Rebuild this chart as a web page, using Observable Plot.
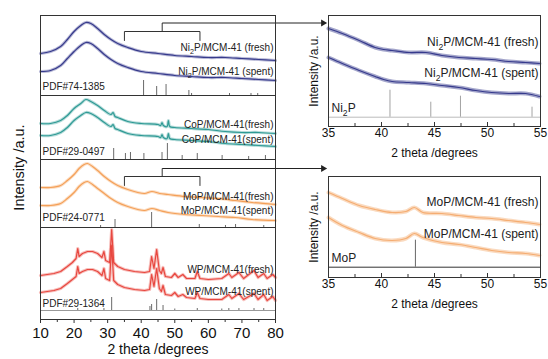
<!DOCTYPE html>
<html><head><meta charset="utf-8">
<script src="https://cdn.jsdelivr.net/npm/d3@7"></script>
<script src="https://cdn.jsdelivr.net/npm/@observablehq/plot@0.6"></script>
<style>
html,body{margin:0;padding:0;background:#fff;}
#chart{position:relative;width:548px;height:359px;overflow:hidden;}
#chart svg{position:absolute;left:0;top:0;max-width:none;}
</style></head><body><div id="chart"></div>
<script>
// ---------------- DATA (intensity in a.u., stacked) ----------------
// Ni2P/MCM-41
const ni2pTheta = [10,13,16,18,20,22,23.5,25,27,29,31,33,36,40,45,50,55,60,65,70,75,80];
const ni2pFresh = [266,268,273,280,288,294,297,296,291,285,280,276,272,268,266,264,263,262,262,261,260,259];
const ni2pSpent = [248,249,254,261,268,274,277,276,271,265,260,256,252,248,246,244,243,242,242,241,240,239];
const ni2pRefTheta = [40.7,44.6,47.4,54.2,55.0,66.3,72.7,74.7];
const ni2pRefInt = [15,9,11,5,2,2,2,2];
// CoP/MCM-41
const copTheta = [10,13,16,18,20,22,23.5,25,27,29,31,31.6,32.2,33,36,40,45,45.8,46.2,46.6,47.7,48.1,48.5,50,55,60,65,70,75,80];
const copFresh = [196,196,199,204,211,216,220,218,214,209,205,207,203,202,198,196,195,194,197,194,193,199,193,192,191,190,188,187,187,186];
const copSpent = [184,184,187,192,199,204,207,206,202,197,193,195,191,190,186,184,183,182,185,182,181,186,181,180,179,178,176,175,174,173];
const copRefTheta = [31.8,35.3,36.8,40.8,46.2,47.8,52.2,56.7,64.1,72.0,77.0];
const copRefInt = [11,6,7,6,7,16,4,6,4,3,4];
// MoP/MCM-41
const mopTheta = [10,13,16,18,20,21.5,23,24,25.5,27,29,31,33,36,39,41,43.2,45.5,48,53,58,63,68,73,80];
const mopFresh = [132,132,134,139,145,151,155,156,153,149,143,138,134,130,127,126,128,126,125,123,122,121,119,117,115];
const mopSpent = [114,114,116,121,127,133,137,138,135,131,126,121,117,113,110,109,111,109,107,105,104,103,102,100,99];
const mopRefTheta = [27.9,32.2,43.1,57.3,65.1,68.1,76.5];
const mopRefInt = [2,8,15,3,2,3,2];
// WP/MCM-41
const wpTheta = [10,14,16,18,19.5,20.6,21.1,21.5,22.5,24,25.5,27,28.3,28.9,29.4,30.6,31.2,31.8,33,35,38,41,42.5,43.1,43.8,44.6,45.4,46.0,46.5,47.2,49,50,51,52.4,53.5,56,56.7,57.5,60,64,66.1,67,69.1,70.5,73.6,74.8,76.5,77.5,79.2,80];
const wpFresh = [44,46,48,53,57,61,71,63,66,68,68,66,62,68,59,57,90,57,53,50,48,47,48,63,51,70,49,46,52,43,42,46,42,45,41,41,48,41,40,41,46,42,47,41,49,42,46,41,45,42];
const wpSpent = [27,29,31,36,40,43,53,46,48,50,50,48,44,51,41,39,74,39,35,32,30,29,30,45,33,51,31,28,34,25,24,27,23,25,22,21,27,21,20,20,25,21,26,20,26,20,25,19,23,19];
const wpRefTheta = [21.1,28.9,31.2,42.6,43.1,44.6,46.5,50.0,56.7,64.0,66.1,69.1,73.6,76.5];
const wpRefInt = [2,2,13,4,6,11,5,1.5,2,1.5,2,2,2,2];
// Zoomed Ni2P (35-55 deg)
const ni2pZoomTheta = [35.0,36.3,37.9,39.4,40.2,41.0,42.6,44.2,45.7,47.3,48.9,50.4,52.0,53.6,54.9];
const ni2pZoomFresh = [98,93,86,79,77,76,74,74,71,69,68,67,65,64,63];
const ni2pZoomSpent = [69,63,56,50,47,45,44,43,41,39,36,34,33,33,30];
const ni2pZoomRefTheta = [40.8,44.65,47.45,54.2];
const ni2pZoomRefInt = [27,15,21,10];
// Zoomed MoP (35-55 deg)
const mopZoomTheta = [35.0,36.3,37.9,39.4,41.0,42.3,43.1,43.9,45.7,47.3,48.9,50.4,52.0,53.6,54.9];
const mopZoomFresh = [85,79,72,68,65,66,70,65,64,62,60,59,57,55,53];
const mopZoomSpent = [60,52,45,39,37,39,44,40,35,33,30,27,25,24,22];
const mopZoomRefTheta = [43.2];
const mopZoomRefInt = [27];
// Tick labels
const mainTicks = [10,20,30,40,50,60,70,80];
const mainMinor = [15,25,35,45,55,65,75];
const zoomTicks = [35,40,45,50,55];
const zoomMinor = [37.5,42.5,47.5,52.5];
const zoomRange = [35,57.5];

// ---------------- STYLE / LAYOUT ----------------
const FONT = '"Liberation Sans", Arial, Helvetica, sans-serif';
const C = {ni2p:"#363a8c", cop:"#2f9a95", mop:"#f4a058", mopZ:"#f5ad72", wp:"#e8473f", ink:"#333"};
const W = 548, H = 359;
const MAIN = {left:40, right:275, top:15, bottom:319, x:[10,80], y:[0,304]};
const INS = [{top:15, bottom:126}, {top:176, bottom:277}];
const INS_LEFT = 328, INS_RIGHT = 540;
// main-scale inverse for placing the inset axis titles within the main plot's coordinate system
const mainXof = px => MAIN.x[0] + (px - MAIN.left) * (MAIN.x[1]-MAIN.x[0]) / (MAIN.right - MAIN.left);
const mainYof = px => MAIN.y[0] + (MAIN.bottom - px) * (MAIN.y[1]-MAIN.y[0]) / (MAIN.bottom - MAIN.top);

const rows = (t, v) => t.map((x,i)=>({t:x, v:v[i]}));
const sticks = (t, h, base) => t.map((x,i)=>({t:x, y1:base, y2:base+h[i]}));
function band(t, v, color, curve="catmull-rom", w=3.2, op=0.35) {
  const d = rows(t, v);
  return [
    Plot.line(d, {x:"t", y:"v", stroke:color, strokeWidth:w, strokeOpacity:op, curve}),
    Plot.line(d, {x:"t", y:"v", stroke:color, strokeWidth:1.2, curve})
  ];
}
const seps = [224,160,92];
const wpBase = 9;
const arrowTipX = mainXof(INS_LEFT - 3);
function bracket(yb, top) {
  const c = (zoomRange[0]+zoomRange[1])/2;
  return [
    Plot.line([{t:zoomRange[0],v:yb-9},{t:zoomRange[0],v:yb},{t:zoomRange[1],v:yb},{t:zoomRange[1],v:yb-9}], {x:"t", y:"v", stroke:C.ink, strokeWidth:1}),
    Plot.link([{x1:c, y1:yb, x2:c, y2:top}], {x1:"x1", y1:"y1", x2:"x2", y2:"y2", stroke:C.ink, strokeWidth:1}),
    Plot.link([{x1:c, y1:top, x2:arrowTipX, y2:top}], {x1:"x1", y1:"y1", x2:"x2", y2:"y2", stroke:"#222", strokeWidth:1}),
    Plot.dot([{t:arrowTipX - 0.7, v:top}], {x:"t", y:"v", symbol:"triangle", rotate:90, r:2.6, fill:"#222", stroke:null})
  ];
}
const rightLabel = (text, y, fs=10) => Plot.text([text], {x:80, y:()=>y, text:d=>d, textAnchor:"end", dx:-2, fontSize:fs, fill:"#222"});
const leftLabel = (text, y, fs=10) => Plot.text([text], {x:10, y:()=>y, text:d=>d, textAnchor:"start", dx:2, fontSize:fs, fill:"#222"});
const insetYTitles = INS.map(r => ({t:mainXof(314), v:mainYof((r.top + r.bottom)/2), s:"Intensity /a.u."}));

const main = Plot.plot({
  width:W, height:H, marginLeft:MAIN.left, marginRight:W-MAIN.right, marginTop:MAIN.top, marginBottom:H-MAIN.bottom,
  x:{domain:MAIN.x, label:null}, y:{domain:MAIN.y, label:null},
  style:{fontFamily:FONT, fontSize:"10px", background:"white"},
  marks:[
    Plot.ruleY(seps, {stroke:C.ink, strokeWidth:1}),
    Plot.ruleY([wpBase], {stroke:"#999", strokeWidth:1}),
    ...band(ni2pTheta, ni2pFresh, C.ni2p), ...band(ni2pTheta, ni2pSpent, C.ni2p),
    ...band(copTheta, copFresh, C.cop), ...band(copTheta, copSpent, C.cop),
    ...band(mopTheta, mopFresh, C.mop), ...band(mopTheta, mopSpent, C.mop),
    ...band(wpTheta, wpFresh, C.wp, "linear"), ...band(wpTheta, wpSpent, C.wp, "linear"),
    Plot.ruleX(sticks(ni2pRefTheta, ni2pRefInt, seps[0]), {x:"t", y1:"y1", y2:"y2", stroke:"#444", strokeWidth:0.8}),
    Plot.ruleX(sticks(copRefTheta, copRefInt, seps[1]), {x:"t", y1:"y1", y2:"y2", stroke:"#444", strokeWidth:0.8}),
    Plot.ruleX(sticks(mopRefTheta, mopRefInt, seps[2]), {x:"t", y1:"y1", y2:"y2", stroke:"#444", strokeWidth:0.8}),
    Plot.ruleX(sticks(wpRefTheta, wpRefInt, wpBase), {x:"t", y1:"y1", y2:"y2", stroke:"#444", strokeWidth:0.8}),
    ...bracket(288, 296.5), ...bracket(143, 151),
    rightLabel("Ni2P/MCM-41 (fresh)", 272), rightLabel("Ni2P/MCM-41 (spent)", 248), leftLabel("PDF#74-1385", 233),
    rightLabel("CoP/MCM-41(fresh)", 195), rightLabel("CoP/MCM-41(spent)", 180), leftLabel("PDF#29-0497", 168),
    rightLabel("MoP/MCM-41(fresh)", 123), rightLabel("MoP/MCM-41(spent)", 109), leftLabel("PDF#24-0771", 102),
    rightLabel("WP/MCM-41(fresh)", 50), rightLabel("WP/MCM-41(spent)", 28), leftLabel("PDF#29-1364", 16),
    Plot.frame({stroke:C.ink, strokeWidth:1}),
    Plot.axisX(mainTicks, {tickSize:4, tickPadding:4, fontSize:15, label:null, stroke:C.ink, fill:"#111"}),
    Plot.axisX(mainMinor, {tickSize:3, tickFormat:()=>"", label:null, stroke:C.ink}),
    Plot.text(["2 theta /degrees"], {frameAnchor:"bottom", dy:34, fontSize:14, fill:"#111"}),
    Plot.axisY({ticks:[], label:"Intensity /a.u.", labelAnchor:"center", labelArrow:"none", labelOffset:27, fontSize:14.5, fill:"#111"}),
    // y titles of the two zoomed panels
    Plot.text(insetYTitles, {x:"t", y:"v", text:"s", rotate:-90, textAnchor:"middle", lineAnchor:"middle", fontSize:12, fill:"#111"})
  ]
});

function inset(r, theta, fresh, spent, color, refT, refI, refBase, refStroke, baseStroke, name, labels) {
  const h = r.bottom - r.top;
  return Plot.plot({
    width:W, height:H, marginLeft:INS_LEFT, marginRight:W-INS_RIGHT, marginTop:r.top, marginBottom:H-r.bottom,
    x:{domain:[35,55], label:null}, y:{domain:[0,h], label:null, axis:null},
    style:{fontFamily:FONT, fontSize:"12px", background:"transparent"},
    marks:[
      Plot.ruleY([refBase], {stroke:baseStroke, strokeWidth:1}),
      Plot.ruleX(sticks(refT, refI, refBase), {x:"t", y1:"y1", y2:"y2", stroke:refStroke, strokeWidth:0.9}),
      ...band(theta, fresh, color, "catmull-rom", 4, 0.45), ...band(theta, spent, color, "catmull-rom", 4, 0.45),
      Plot.text([name+"/MCM-41 (fresh)"], {x:55, y:()=>labels[0], textAnchor:"end", dx:-2, fontSize:12, fill:"#222"}),
      Plot.text([name+"/MCM-41 (spent)"], {x:55, y:()=>labels[1], textAnchor:"end", dx:-2, fontSize:12, fill:"#222"}),
      Plot.text([name], {x:35, y:()=>labels[2], textAnchor:"start", dx:3, fontSize:12, fill:"#222"}),
      Plot.ruleX(zoomTicks.concat(zoomMinor), {x:d=>d, y1:0, y2:d=>Number.isInteger(d/5)?4:3, stroke:C.ink}),
      Plot.frame({stroke:C.ink, strokeWidth:1}),
      Plot.axisX(zoomTicks, {tickSize:0, tickPadding:2, fontSize:12, label:null, fill:"#111"}),
      Plot.text(["2 theta /degrees"], {frameAnchor:"bottom", dy:30, fontSize:12, fill:"#111"})
    ]
  });
}
const insetNi = inset(INS[0], ni2pZoomTheta, ni2pZoomFresh, ni2pZoomSpent, C.ni2p, ni2pZoomRefTheta, ni2pZoomRefInt, 9.3, "#999", "#bbb", "Ni2P", [84, 53, 18]);
const insetMo = inset(INS[1], mopZoomTheta, mopZoomFresh, mopZoomSpent, C.mopZ, mopZoomRefTheta, mopZoomRefInt, 10.3, "#555", "#333", "MoP", [75, 43, 19]);

const root = document.getElementById("chart");
root.append(main, insetNi, insetMo);

// subscript "2" in Ni2P labels
const NS = "http://www.w3.org/2000/svg";
root.querySelectorAll("text").forEach(t => {
  const s = t.textContent; const i = s.indexOf("Ni2P");
  if (i < 0 || t.children.length) return;
  const fs = parseFloat(getComputedStyle(t).fontSize) || 10;
  const off = (fs*0.3).toFixed(1);
  t.textContent = "";
  const a = document.createElementNS(NS,"tspan"); a.textContent = s.slice(0, i+2);
  const b = document.createElementNS(NS,"tspan"); b.textContent = "2"; b.setAttribute("dy", off); b.setAttribute("font-size", (fs*0.72).toFixed(1));
  const c = document.createElementNS(NS,"tspan"); c.textContent = s.slice(i+3); c.setAttribute("dy", "-"+off);
  t.append(a,b,c);
});
</script></body></html>
